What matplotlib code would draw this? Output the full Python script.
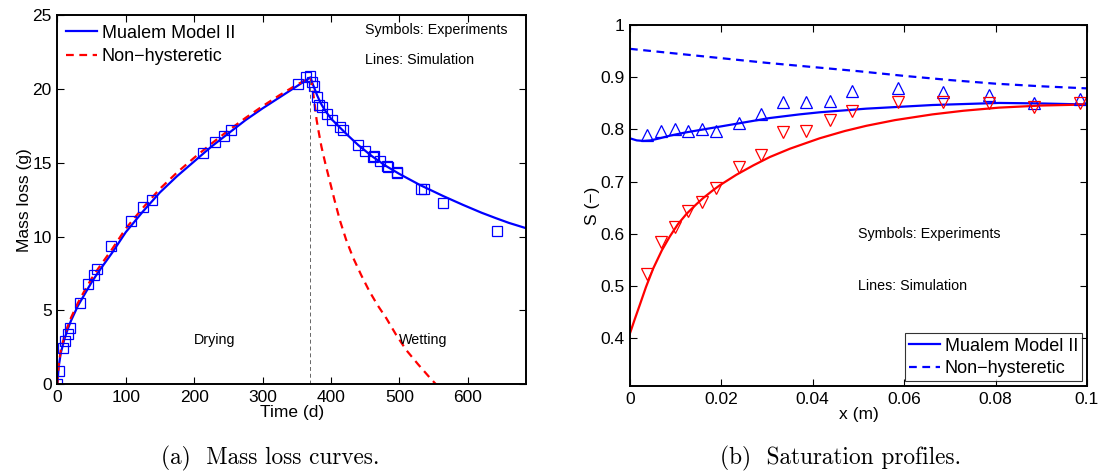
import matplotlib
matplotlib.use("Agg")
import matplotlib.pyplot as plt

plt.rcParams['font.family'] = ['Liberation Sans', 'DejaVu Sans']

# ---- (a) mass loss: experiments (squares) ----
exp_time = [0, 2, 8.6, 11.5, 15, 18, 32.5, 45, 54, 58, 79, 108, 125, 138,
            213, 231, 243, 254, 352, 363, 369,
            372, 375, 379, 383, 387, 394.5, 401, 413.5, 417, 440, 450, 461,
            463, 471, 482, 484, 496, 497, 532, 536.5, 563, 642]
exp_mass = [0, 0.85, 2.45, 2.9, 3.4, 3.8, 5.5, 6.75, 7.4, 7.8, 9.35, 11.05, 12.0, 12.45,
            15.65, 16.4, 16.85, 17.2, 20.35, 20.8, 20.9,
            20.5, 20.2, 19.5, 18.95, 18.8, 18.35, 17.9, 17.45, 17.25, 16.2, 15.8, 15.4,
            15.5, 15.1, 14.8, 14.75, 14.4, 14.3, 13.25, 13.25, 12.3, 10.35]

# simulation, Mualem model II
mua_time = [0, 2, 5, 10, 15, 20, 30, 40, 50, 60, 80, 100, 125, 150, 175, 200, 225,
            250, 275, 300, 325, 350, 370,
            372, 375, 380, 385, 390, 400, 413, 425, 440, 460, 480, 500, 530, 564, 593,
            620, 641, 660, 690]
mua_mass = [0, 1.2, 2.1, 3.0, 3.7, 4.3, 5.3, 6.1, 6.9, 7.6, 8.9, 10.3, 11.7, 13.0,
            14.1, 15.1, 16.1, 17.0, 17.9, 18.7, 19.45, 20.2, 20.8,
            20.5, 20.15, 19.55, 19.05, 18.65, 18.0, 17.4, 16.85, 16.2, 15.45, 14.8,
            14.25, 13.5, 12.75, 12.15, 11.62, 11.25, 10.93, 10.5]

# simulation, non-hysteretic
nh_time = [0, 2, 5, 10, 15, 20, 30, 40, 50, 60, 80, 100, 125, 150, 175, 200, 225,
           250, 275, 300, 325, 350, 370,
           372, 374, 376, 379, 382, 386, 392, 398, 405, 413, 422, 432, 444, 456,
           468, 481, 495, 510, 527, 544, 562]
nh_mass = [0, 1.3, 2.3, 3.2, 3.9, 4.5, 5.5, 6.35, 7.15, 7.85, 9.15, 10.55, 11.95, 13.25,
           14.35, 15.35, 16.3, 17.2, 18.05, 18.85, 19.6, 20.3, 20.8,
           20.3, 19.7, 19.0, 17.9, 17.1, 16.1, 14.9, 13.8, 12.5, 11.1, 9.8, 8.6, 7.4,
           6.3, 5.35, 4.45, 3.35, 2.3, 1.35, 0.45, -0.45]

# ---- (b) saturation profiles ----
pos_exp = [0.0038, 0.0068, 0.0098, 0.0127, 0.0157, 0.0188, 0.0238, 0.0287, 0.0336,
           0.0386, 0.0437, 0.0486, 0.0586, 0.0686, 0.0785, 0.0884, 0.0984]
sat_dry = [0.789, 0.797, 0.800, 0.798, 0.800, 0.797, 0.813, 0.829, 0.852, 0.852,
           0.855, 0.874, 0.879, 0.872, 0.866, 0.850, 0.858]
sat_wet = [0.522, 0.583, 0.613, 0.644, 0.660, 0.688, 0.728, 0.750, 0.795, 0.798,
           0.818, 0.836, 0.853, 0.853, 0.850, 0.843, 0.850]

pos_dry = [0, 0.0015, 0.0029, 0.0045, 0.0065, 0.0087, 0.012, 0.016, 0.02, 0.0233,
           0.0306, 0.0371, 0.0415, 0.0517, 0.06, 0.0662, 0.0808, 0.09, 0.1]
sim_dry = [0.783, 0.779, 0.778, 0.779, 0.783, 0.788, 0.794, 0.800, 0.806, 0.811,
           0.822, 0.829, 0.833, 0.840, 0.844, 0.847, 0.851, 0.850, 0.848]

pos_wet = [0, 0.001, 0.0022, 0.0035, 0.0051, 0.007, 0.0087, 0.0105, 0.0124, 0.0145,
           0.016, 0.018, 0.0197, 0.0233, 0.027, 0.0306, 0.035, 0.0415, 0.047, 0.0517,
           0.058, 0.0662, 0.073, 0.0808, 0.09, 0.1]
sim_wet = [0.408, 0.434, 0.464, 0.497, 0.533, 0.568, 0.594, 0.618, 0.638, 0.656,
           0.668, 0.682, 0.693, 0.713, 0.731, 0.747, 0.763, 0.783, 0.797, 0.807,
           0.818, 0.829, 0.836, 0.842, 0.846, 0.848]

pos_nh = [0, 0.01, 0.02, 0.03, 0.04, 0.05, 0.06, 0.07, 0.08, 0.09, 0.1]
sat_nh = [0.955, 0.946, 0.937, 0.928, 0.920, 0.912, 0.903, 0.895, 0.888, 0.883, 0.879]

fig = plt.figure(figsize=(10.99, 4.75), dpi=100)

# left panel
ax1 = fig.add_axes([0.0522, 0.1916, 0.4264, 0.7758])
l1, = ax1.plot(mua_time, mua_mass, '-', color='blue', lw=1.6, label='Mualem Model II')
l2, = ax1.plot(nh_time, nh_mass, '--', color='red', lw=1.6, dashes=(3.5, 2.5),
               label='Non\u2212hysteretic')
ax1.plot(exp_time, exp_mass, 's', ms=6.5, mfc='none', mec='blue', mew=0.9)
ax1.plot([370, 370], [0, 20.8], '--', color='0.4', lw=0.7, dashes=(4, 3))
ax1.set_xlim(0, 685)
ax1.set_ylim(0, 25)
ax1.set_xticks([0, 100, 200, 300, 400, 500, 600])
ax1.set_yticks([0, 5, 10, 15, 20, 25])
ax1.set_xlabel('Time (d)', fontsize=12.5, labelpad=0)
ax1.set_ylabel('Mass loss (g)', fontsize=12.5, labelpad=0)
ax1.legend(handles=[l1, l2], loc='upper left', frameon=False, fontsize=13,
           handlelength=1.7, handletextpad=0.25, borderaxespad=0.2, labelspacing=0.35,
           borderpad=0.3)
ax1.text(450, 24, 'Symbols: Experiments', fontsize=10.3, va='center')
ax1.text(450, 22, 'Lines: Simulation', fontsize=10.3, va='center')
ax1.text(200, 3, 'Drying', fontsize=10.3, va='center')
ax1.text(500, 3, 'Wetting', fontsize=10.3, va='center')

# right panel
ax2 = fig.add_axes([0.5732, 0.1874, 0.4158, 0.7591])
r1, = ax2.plot(pos_dry, sim_dry, '-', color='blue', lw=1.6, label='Mualem Model II')
ax2.plot(pos_wet, sim_wet, '-', color='red', lw=1.6)
r2, = ax2.plot(pos_nh, sat_nh, '--', color='blue', lw=1.6, dashes=(3.5, 2.5),
               label='Non\u2212hysteretic')
ax2.plot(pos_exp, sat_dry, '^', ms=9, mfc='none', mec='blue', mew=0.9)
ax2.plot(pos_exp, sat_wet, 'v', ms=9, mfc='none', mec='red', mew=0.9)
ax2.set_xlim(0, 0.1)
ax2.set_ylim(0.307, 1)
ax2.set_xticks([0, 0.02, 0.04, 0.06, 0.08, 0.1])
ax2.set_xticklabels(['0', '0.02', '0.04', '0.06', '0.08', '0.1'])
ax2.set_yticks([0.4, 0.5, 0.6, 0.7, 0.8, 0.9, 1])
ax2.set_yticklabels(['0.4', '0.5', '0.6', '0.7', '0.8', '0.9', '1'])
ax2.set_xlabel('x (m)', fontsize=12.5, labelpad=0)
ax2.set_ylabel('S (\u2212)', fontsize=12.5, labelpad=0)
leg = ax2.legend(handles=[r1, r2], loc='lower right', fontsize=13, fancybox=False,
                 edgecolor='black', handlelength=1.7, handletextpad=0.25,
                 borderaxespad=0.25, labelspacing=0.3, borderpad=0.25)
leg.get_frame().set_linewidth(0.8)
ax2.text(0.05, 0.6, 'Symbols: Experiments', fontsize=10.3, va='center')
ax2.text(0.05, 0.5, 'Lines: Simulation', fontsize=10.3, va='center')

for ax in (ax1, ax2):
    ax.tick_params(direction='in', top=True, right=True, length=5, width=0.8,
                   labelsize=12.5, pad=4)
    for s in ax.spines.values():
        s.set_linewidth(1.4)

fig.text(0.246, 0.035, '(a)  Mass loss curves.', family='cmr10', fontsize=16.8,
         ha='center', va='center')
fig.text(0.765, 0.035, '(b)  Saturation profiles.', family='cmr10', fontsize=16.8,
         ha='center', va='center')

fig.savefig('out.png', dpi=100)
